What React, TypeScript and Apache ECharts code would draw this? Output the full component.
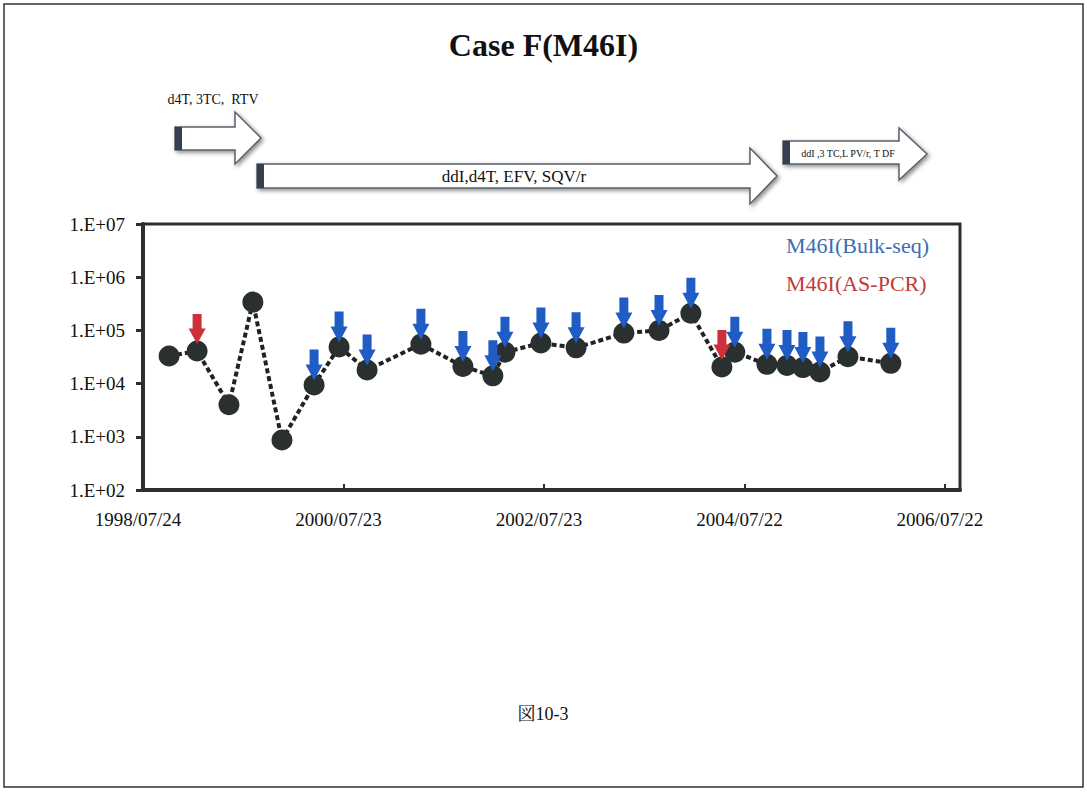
import React, { useEffect, useRef } from "react";
import * as echarts from "echarts";

// ---- data ----
const sampleDates = [
  "1998/10/27", "1999/02/06", "1999/06/02", "1999/08/28", "1999/12/12",
  "2000/04/07", "2000/07/07", "2000/10/17", "2001/05/01", "2001/10/01",
  "2002/01/18", "2002/03/03", "2002/07/12", "2002/11/17", "2003/05/10",
  "2003/09/15", "2004/01/09", "2004/05/01", "2004/06/17", "2004/10/12",
  "2004/12/24", "2005/02/20", "2005/04/23", "2005/08/03", "2006/01/06",
];
const viralLoad = [
  33000, 41000, 4000, 340000, 870,
  9400, 49000, 18000, 55000, 21000,
  14000, 39000, 58000, 47000, 89000,
  100000, 210000, 20500, 39000, 23000,
  22000, 20000, 16500, 32000, 24000,
];
const bulkSeqDates = [
  "2000/04/07", "2000/07/07", "2000/10/17", "2001/05/01", "2001/10/01",
  "2002/01/18", "2002/03/03", "2002/07/12", "2002/11/17", "2003/05/10",
  "2003/09/15", "2004/01/09", "2004/06/17", "2004/10/12", "2004/12/24",
  "2005/02/20", "2005/04/23", "2005/08/03", "2006/01/06",
];
const asPcrDates = ["1999/02/06", "2004/05/01"];
const xTickLabels = ["1998/07/24", "2000/07/23", "2002/07/23", "2004/07/22", "2006/07/22"];
const yTickLabels = ["1.E+02", "1.E+03", "1.E+04", "1.E+05", "1.E+06", "1.E+07"];
const treatments = ["d4T, 3TC,  RTV", "ddI,d4T, EFV, SQV/r", "ddI ,3 TC,L PV/r, T DF"];
const legendNames = ["M46I(Bulk-seq)", "M46I(AS-PCR)"];

const toSerial = (s: string) => {
  const [y, m, d] = s.split("/").map(Number);
  return Date.UTC(y, m - 1, d) / 86400000 + 25569;
};

const X_MIN = toSerial(xTickLabels[0]);
const X_STEP = 730;

const SERIF = "'Liberation Serif', 'Times New Roman', serif";
const BLUE = "#1f5cc4";
const RED = "#cf2f38";
const DARK = "#2a302f";

const arrowPath = "path://M4,0L13,0L13,15L17,15L8.5,31L0,15L4,15Z";

const linePoints = sampleDates.map((d, i) => [toSerial(d), viralLoad[i]]);
const pointFor = (d: string) => {
  const i = sampleDates.indexOf(d);
  return [toSerial(d), viralLoad[i]];
};

const blockArrow = (
  x0: number, x1: number, top: number, bottom: number,
  headTop: number, headBottom: number, tipX: number
) => {
  const mid = (headTop + headBottom) / 2;
  return [
    {
      type: "polygon",
      shape: {
        points: [
          [x0, top], [x1, top], [x1, headTop], [tipX, mid],
          [x1, headBottom], [x1, bottom], [x0, bottom],
        ],
      },
      style: {
        fill: "#ffffff",
        stroke: "#596068",
        lineWidth: 1.5,
        shadowBlur: 4,
        shadowOffsetX: 2,
        shadowOffsetY: 2,
        shadowColor: "rgba(0,0,0,0.45)",
      },
    },
    {
      type: "rect",
      shape: { x: x0, y: top, width: 7, height: bottom - top },
      style: { fill: "#34404e" },
    },
  ];
};

const text = (t: string, x: number, y: number, size: number, extra: any = {}) => ({
  type: "text",
  x,
  y,
  style: {
    text: t,
    fontSize: size,
    fontFamily: SERIF,
    fill: "#111",
    align: "center",
    textAlign: "center",
    verticalAlign: "middle",
    textVerticalAlign: "middle",
    ...extra,
  },
});

export default function App() {
  const ref = useRef<HTMLDivElement>(null);
  useEffect(() => {
    if (!ref.current) return;
    const chart = echarts.init(ref.current, null, { renderer: "svg" });
    const option: any = {
      animation: false,
      backgroundColor: "#ffffff",
      title: {
        text: "Case F(M46I)",
        left: "center",
        top: 24,
        textStyle: { fontFamily: SERIF, fontWeight: "bold", fontSize: 32, color: "#111" },
      },
      legend: {
        orient: "vertical",
        left: 776,
        top: 229,
        icon: "none",
        itemWidth: 0,
        itemHeight: 0,
        itemGap: 16,
        selectedMode: false,
        data: [
          { name: legendNames[0], textStyle: { color: "#3a6db4", fontSize: 22, fontFamily: SERIF } },
          { name: legendNames[1], textStyle: { color: "#c23a3b", fontSize: 22, fontFamily: SERIF } },
        ],
      },
      grid: {
        left: 143,
        right: 1087 - 960,
        top: 224,
        bottom: 792 - 490,
        show: true,
        borderColor: DARK,
        borderWidth: 3,
        containLabel: false,
      },
      xAxis: {
        type: "value",
        min: X_MIN,
        max: X_MIN + 2975,
        interval: X_STEP,
        axisLine: { show: true, lineStyle: { color: DARK, width: 4 } },
        axisTick: { show: true, inside: true, length: 6, lineStyle: { color: DARK, width: 2 } },
        splitLine: { show: false },
        axisLabel: {
          showMaxLabel: false,
          margin: 20,
          padding: [0, 10, 0, 0],
          fontFamily: SERIF,
          fontSize: 19,
          color: "#111",
          formatter: (v: number) => {
            const k = (v - X_MIN) / X_STEP;
            return Math.abs(k - Math.round(k)) < 1e-6 ? xTickLabels[Math.round(k)] || "" : "";
          },
        },
      },
      yAxis: {
        type: "log",
        logBase: 10,
        min: 100,
        max: 1e7,
        axisLine: { show: true, lineStyle: { color: DARK, width: 4 } },
        axisTick: { show: true, inside: false, length: 7, lineStyle: { color: DARK, width: 3 } },
        splitLine: { show: false },
        minorTick: { show: false },
        axisLabel: {
          margin: 18,
          fontFamily: SERIF,
          fontSize: 19,
          color: "#111",
          formatter: (v: number) => yTickLabels[Math.round(Math.log10(v)) - 2] || "",
        },
      },
      graphic: [
        {
          type: "rect",
          shape: { x: 4, y: 4, width: 1079, height: 783 },
          style: { fill: "none", stroke: "#333", lineWidth: 1.5 },
        },
        ...blockArrow(175, 235, 127, 150, 112, 164, 261),
        ...blockArrow(257, 750, 164, 188, 148, 204, 777),
        ...blockArrow(783, 899, 141, 164, 128, 180, 927),
        text(treatments[0], 213, 99, 14),
        text(treatments[1], 514, 176, 17),
        text(treatments[2], 848, 153, 10),
        text("図10-3", 543, 714, 18, {
          fontFamily: "'Liberation Serif', 'Noto Serif CJK JP', 'Noto Sans CJK JP', serif",
        }),
      ],
      series: [
        {
          name: "HIV RNA",
          type: "line",
          data: linePoints,
          symbol: "circle",
          symbolSize: 21,
          itemStyle: { color: DARK, opacity: 1 },
          lineStyle: { color: "#222", width: 4, type: [5, 3] },
          z: 2,
        },
        {
          name: legendNames[0],
          type: "scatter",
          data: bulkSeqDates.map(pointFor),
          symbol: arrowPath,
          symbolSize: [17, 31],
          symbolOffset: [0, -20],
          itemStyle: { color: BLUE, opacity: 1 },
          z: 4,
        },
        {
          name: legendNames[1],
          type: "scatter",
          data: asPcrDates.map(pointFor),
          symbol: arrowPath,
          symbolSize: [17, 30],
          symbolOffset: [0, -22],
          itemStyle: { color: RED, opacity: 1 },
          z: 3,
        },
      ],
    };
    chart.setOption(option);
    return () => chart.dispose();
  }, []);
  return (
    <div
      ref={ref}
      style={{ position: "fixed", left: 0, top: 0, width: 1087, height: 792, background: "#fff" }}
    />
  );
}
